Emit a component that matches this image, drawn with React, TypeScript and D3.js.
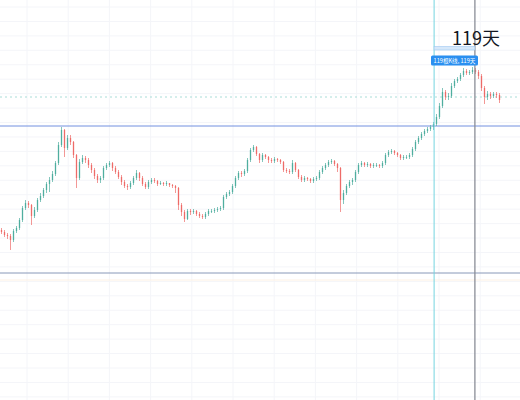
import React from "react";
import * as d3 from "d3";

// Price data (arbitrary price units), one candle per period
const firstOpen = 170;
const closes = [
  168, 165, 164, 160, 169, 172, 180, 192, 197, 195,
  184, 190, 200, 204, 210, 216, 220, 226, 237, 255,
  270, 252, 262, 258, 245, 222, 238, 242, 240, 235,
  230, 224, 220, 222, 232, 235, 237, 232, 228, 223,
  218, 214, 213, 217, 222, 227, 222, 216, 213, 218,
  220, 219, 216, 217, 216, 217, 215, 214, 212, 195,
  188, 181, 189, 188, 189, 186, 184, 183, 186, 189,
  189, 190, 191, 192, 203, 206, 208, 214, 222, 227,
  226, 229, 240, 250, 253, 246, 240, 245, 243, 240,
  239, 241, 240, 238, 230, 229, 228, 237, 230, 223,
  220, 222, 221, 219, 221, 222, 228, 232, 235, 238,
  239, 236, 232, 200, 207, 214, 218, 220, 228, 235,
  237, 235, 236, 234, 235, 235, 234, 237, 245, 248,
  249, 247, 245, 242, 243, 243, 245, 251, 258, 262,
  266, 269, 271, 273, 276, 283, 294, 308, 303, 304,
  314, 319, 321, 325, 329, 327, 328, 330, 328, 324,
  312, 303, 306, 304, 306, 305, 300,
];
const highs = [
  172, 170, 167, 166, 171, 174, 182, 194, 200, 199,
  196, 193, 202, 207, 212, 218, 223, 229, 239, 258,
  273, 271, 265, 265, 259, 246, 241, 245, 244, 242,
  237, 232, 226, 224, 234, 237, 239, 238, 234, 230,
  225, 220, 216, 219, 224, 230, 228, 224, 218, 220,
  222, 222, 220, 219, 218, 219, 217, 216, 215, 213,
  197, 190, 191, 191, 191, 190, 188, 186, 188, 191,
  191, 192, 193, 194, 205, 208, 210, 216, 224, 229,
  229, 231, 242, 252, 255, 254, 247, 247, 246, 244,
  242, 243, 242, 241, 239, 232, 231, 240, 238, 231,
  225, 224, 223, 222, 223, 224, 230, 234, 237, 240,
  241, 240, 237, 233, 210, 216, 220, 222, 230, 237,
  239, 238, 238, 237, 237, 237, 236, 239, 247, 250,
  251, 250, 248, 246, 245, 245, 247, 253, 260, 264,
  268, 271, 273, 275, 278, 286, 297, 312, 310, 307,
  317, 321, 323, 327, 332, 331, 330, 333, 332, 330,
  326, 314, 309, 308, 308, 308, 307,
];
const lows = [
  166, 163, 161, 150, 158, 167, 170, 178, 190, 192,
  175, 182, 188, 198, 202, 207, 208, 218, 224, 235,
  253, 243, 250, 255, 242, 212, 220, 236, 237, 232,
  227, 221, 217, 217, 220, 230, 233, 229, 226, 221,
  215, 212, 210, 211, 215, 220, 219, 214, 211, 211,
  216, 217, 214, 215, 214, 214, 213, 212, 207, 190,
  184, 178, 180, 185, 186, 184, 182, 181, 181, 184,
  187, 187, 188, 189, 190, 201, 204, 206, 212, 220,
  223, 224, 227, 238, 248, 244, 237, 238, 241, 237,
  237, 237, 238, 236, 228, 227, 226, 226, 228, 221,
  218, 218, 219, 217, 217, 219, 220, 226, 230, 233,
  236, 234, 228, 188, 196, 205, 212, 215, 218, 226,
  233, 233, 233, 232, 232, 233, 232, 232, 235, 243,
  246, 245, 243, 240, 240, 241, 241, 243, 249, 256,
  260, 264, 267, 269, 270, 274, 281, 292, 300, 300,
  302, 312, 317, 319, 323, 325, 325, 326, 326, 321,
  309, 296, 300, 301, 302, 302, 297,
];

// Drawing tool levels / markers
const upperLevel = 274;
const lowerLevel = 127;
const dottedLevel = 303;
const faintLevel = 120;
const rangeStart = 144.2;
const rangeEnd = 157.8;
const rangeLabel = "119根K线, 119天";
const rangeTitle = "119天";

const W = 520;
const H = 400;

export default function App() {
  const n = closes.length;
  const x = d3.scaleLinear().domain([0, n - 1]).range([1.5, 499.5]);
  const y = d3.scaleLinear().domain([0, 400]).range([H, 0]);

  const candles = closes.map((c, i) => {
    const o = i === 0 ? firstOpen : closes[i - 1];
    return { o, c, h: highs[i], l: lows[i], i };
  });

  const vGrid = d3.range(27, W, 41.2);
  const hGrid = d3.range(7, H, 14.44);

  const xs = x(rangeStart);
  const xe = x(rangeEnd);
  const up = "#4fae9f";
  const down = "#ee6b68";

  return (
    <svg
      width={W}
      height={H}
      style={{ position: "absolute", left: 0, top: 0, background: "#ffffff" }}
    >
      <rect x={0} y={0} width={W} height={H} fill="#ffffff" />
      {vGrid.map((gx, k) => (
        <line key={"v" + k} x1={gx} x2={gx} y1={0} y2={H} stroke="#f4f5f9" strokeWidth={1} />
      ))}
      {hGrid.map((gy, k) => (
        <line key={"h" + k} x1={0} x2={W} y1={gy} y2={gy} stroke="#f4f5f9" strokeWidth={1} />
      ))}

      {/* faint level line */}
      <line x1={0} x2={W} y1={y(faintLevel)} y2={y(faintLevel)} stroke="#fdf1e4" strokeWidth={1} />
      {/* dotted level */}
      <line
        x1={0}
        x2={W}
        y1={y(dottedLevel)}
        y2={y(dottedLevel)}
        stroke="#a9ddd8"
        strokeWidth={1}
        strokeDasharray="2 3"
      />
      {/* horizontal levels */}
      <line x1={0} x2={W} y1={y(upperLevel)} y2={y(upperLevel)} stroke="#7390e0" strokeWidth={1} />
      <line x1={0} x2={W} y1={y(lowerLevel)} y2={y(lowerLevel)} stroke="#8898b8" strokeWidth={1} />

      {/* candles */}
      {candles.map((d) => {
        const col = d.c >= d.o ? up : down;
        const cx = x(d.i);
        const top = y(Math.max(d.o, d.c));
        const bot = y(Math.min(d.o, d.c));
        return (
          <g key={d.i}>
            <line x1={cx} x2={cx} y1={y(d.h)} y2={y(d.l)} stroke={col} strokeWidth={0.7} />
            <rect x={cx - 0.65} y={top} width={1.3} height={Math.max(0.8, bot - top)} fill={col} />
          </g>
        );
      })}

      {/* range markers */}
      <line x1={xs} x2={xs} y1={0} y2={H} stroke="#74d4e0" strokeWidth={1} />
      <line x1={xe} x2={xe} y1={0} y2={H} stroke="#8a8d96" strokeWidth={1.3} />
      <rect x={xs} y={46.5} width={xe - xs} height={3.5} fill="#d6e8fa" stroke="#9ec9f2" strokeWidth={0.6} />
      <text
        x={452}
        y={45}
        fontSize={18}
        fontFamily="'Noto Sans CJK SC', 'Noto Sans', sans-serif"
        fill="#131722"
      >
        {rangeTitle}
      </text>
      <rect x={431} y={55.5} width={47} height={10} rx={1.5} fill="#2a8ff0" />
      <text
        x={454.5}
        y={62.8}
        fontSize={5.6}
        textAnchor="middle"
        fontFamily="'Noto Sans CJK SC', 'Noto Sans', sans-serif"
        fill="#ffffff"
      >
        {rangeLabel}
      </text>
    </svg>
  );
}
